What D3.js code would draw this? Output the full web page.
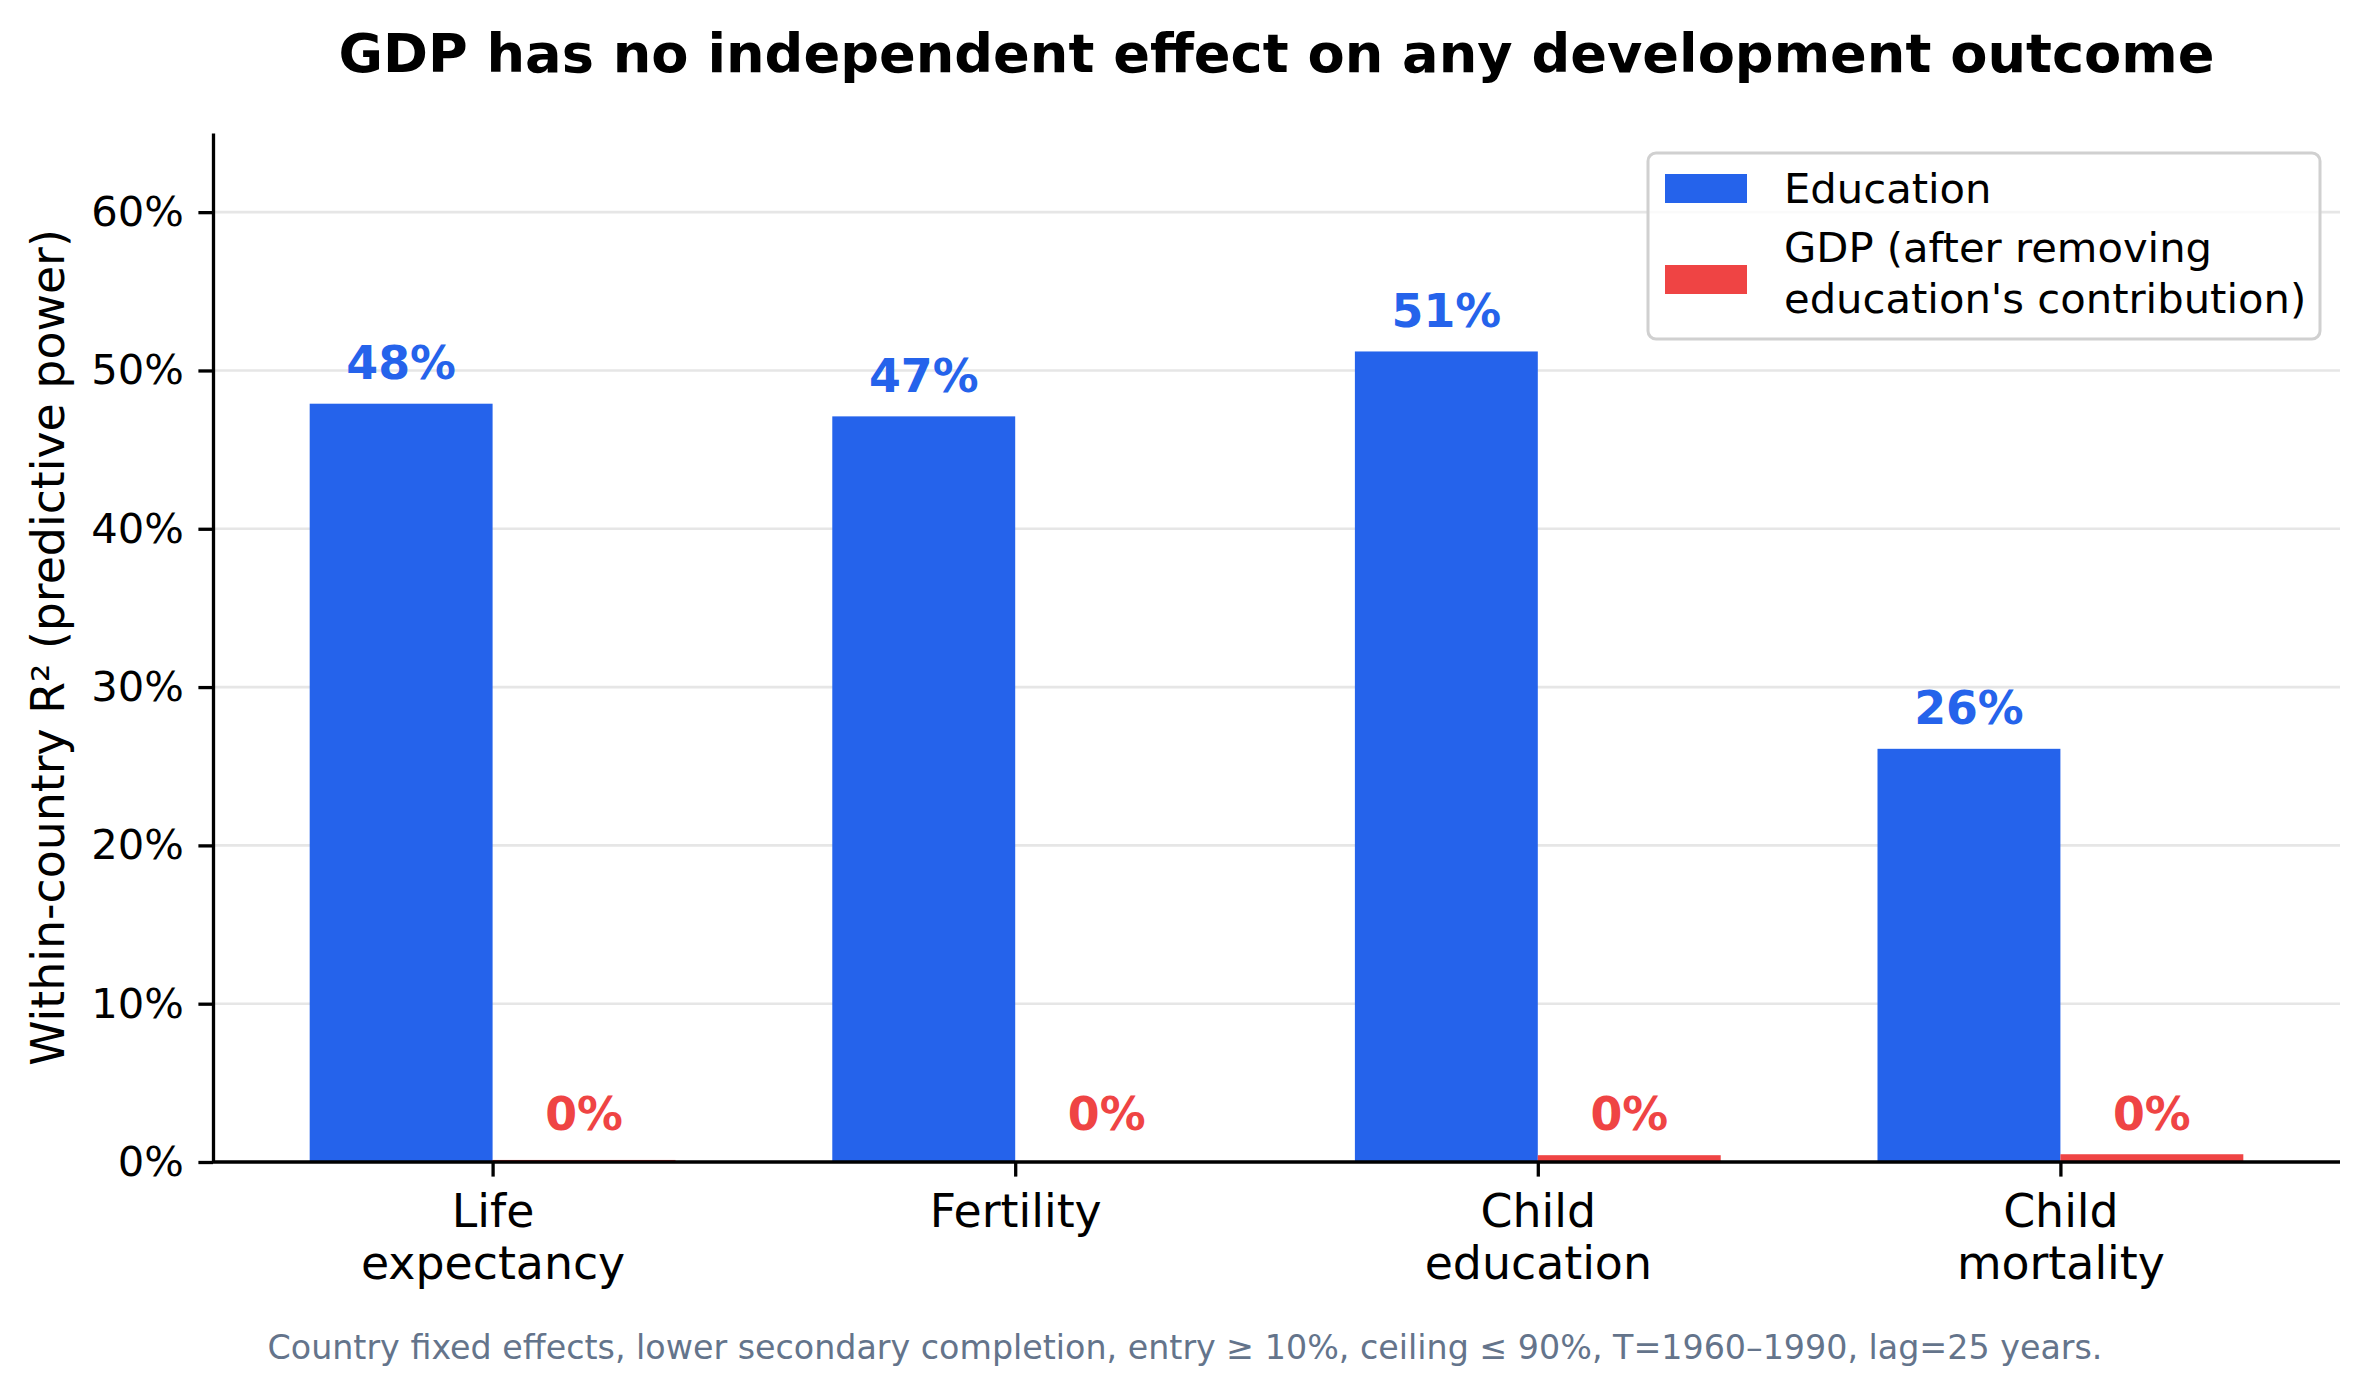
<!DOCTYPE html>
<meta charset="utf-8">
<style>
body { margin: 0; background: #fff; }
text { font-family: "DejaVu Sans", sans-serif; }
.axis path, .axis line { stroke: #000; stroke-width: 3.3px; }
.grid line { stroke: #e6e6e6; stroke-width: 2.6px; }
</style>
<body>
<script src="https://cdn.jsdelivr.net/npm/d3@7"></script>
<script>

// chart data
var categories = [["Life", "expectancy"], ["Fertility"], ["Child", "education"], ["Child", "mortality"]];
var education = [0.479, 0.471, 0.512, 0.261];
var gdp = [0.0013, 0.0006, 0.0043, 0.0049];
var yTicks = [0, 0.1, 0.2, 0.3, 0.4, 0.5, 0.6];
var seriesNames = ["Education", ["GDP (after removing", "education's contribution)"]];
var blue = "#2563eb", red = "#ef4444";

var width = 2370, height = 1397;
var plot = {left: 213, right: 2340, top: 133, bottom: 1162};
var barW = 0.35;

var svg = d3.select("body").append("svg")
    .attr("width", width)
    .attr("height", height);

var x = d3.scaleLinear()
  .domain([-0.535, 3.535])
  .range([plot.left, plot.right]);

var y = d3.scaleLinear()
  .domain([0, 0.65])
  .range([plot.bottom, plot.top]);

// grid
svg.append("g")
  .attr("class", "grid")
  .selectAll("line")
  .data(yTicks.slice(1))
  .enter().append("line")
  .attr("x1", plot.left).attr("x2", plot.right)
  .attr("y1", function(d) { return y(d); })
  .attr("y2", function(d) { return y(d); });

// bars
svg.append("g").selectAll("rect")
  .data(education)
  .enter().append("rect")
  .attr("x", function(d, i) { return x(i - barW); })
  .attr("width", x(barW) - x(0))
  .attr("y", function(d) { return y(d); })
  .attr("height", function(d) { return y(0) - y(d); })
  .style("fill", blue);

svg.append("g").selectAll("rect")
  .data(gdp)
  .enter().append("rect")
  .attr("x", function(d, i) { return x(i); })
  .attr("width", x(barW) - x(0))
  .attr("y", function(d) { return y(d); })
  .attr("height", function(d) { return y(0) - y(d); })
  .style("fill", red);

// value labels
svg.append("g").selectAll("text")
  .data(education)
  .enter().append("text")
  .attr("x", function(d, i) { return x(i - barW / 2); })
  .attr("y", function(d) { return y(d + 0.0155); })
  .attr("text-anchor", "middle")
  .style("font-size", "45.8px")
  .style("font-weight", "bold")
  .style("fill", blue)
  .text(function(d) { return d3.format(".0%")(d); });

svg.append("g").selectAll("text")
  .data(gdp)
  .enter().append("text")
  .attr("x", function(d, i) { return x(i + barW / 2); })
  .attr("y", y(0.0205))
  .attr("text-anchor", "middle")
  .style("font-size", "45.8px")
  .style("font-weight", "bold")
  .style("fill", red)
  .text(function(d) { return d3.format(".0%")(d); });

// axes
var yAxis = svg.append("g")
  .attr("class", "axis")
  .attr("transform", "translate(" + plot.left + ",0)")
  .call(d3.axisLeft(y).tickValues(yTicks).tickFormat(d3.format(".0%"))
    .tickSize(14.6).tickPadding(14.6).tickSizeOuter(0));
yAxis.selectAll("text").style("font-size", "41.7px").attr("fill", "#000");

var xAxis = svg.append("g")
  .attr("class", "axis")
  .attr("transform", "translate(0," + plot.bottom + ")")
  .call(d3.axisBottom(x).tickValues([0, 1, 2, 3]).tickFormat("")
    .tickSize(14.6).tickSizeOuter(0));
xAxis.select("path").attr("d", "M" + plot.left + ",0H" + plot.right);

xAxis.selectAll(".tick").each(function(d) {
  var t = d3.select(this).append("text")
    .attr("fill", "#000")
    .attr("text-anchor", "middle")
    .style("font-size", "45.8px");
  categories[d].forEach(function(line, k) {
    t.append("tspan").attr("x", 0).attr("y", 65 + k * 52).text(line);
  });
});

// title
svg.append("text")
  .attr("x", (plot.left + plot.right) / 2)
  .attr("y", 72)
  .attr("text-anchor", "middle")
  .style("font-size", "54.2px")
  .style("font-weight", "bold")
  .text("GDP has no independent effect on any development outcome");

// y label
svg.append("text")
  .attr("transform", "translate(64," + ((plot.top + plot.bottom) / 2) + ") rotate(-90)")
  .attr("text-anchor", "middle")
  .style("font-size", "45.8px")
  .text("Within-country R² (predictive power)");

// footnote
svg.append("text")
  .attr("x", width / 2)
  .attr("y", 1359)
  .attr("text-anchor", "middle")
  .style("font-size", "33.3px")
  .style("fill", "#64748b")
  .text("Country fixed effects, lower secondary completion, entry ≥ 10%, ceiling ≤ 90%, T=1960–1990, lag=25 years.");

// legend
var legend = svg.append("g");
legend.append("rect")
  .attr("x", 1648).attr("y", 153)
  .attr("width", 672).attr("height", 186)
  .attr("rx", 8)
  .style("fill", "#fff").style("fill-opacity", 0.8)
  .style("stroke", "#d0d0d0").style("stroke-width", 3);

var legendColors = [blue, red];
var swatchY = [174, 265];
var textY = [[203], [262, 313]];
seriesNames.forEach(function(name, i) {
  legend.append("rect")
    .attr("x", 1665).attr("y", swatchY[i])
    .attr("width", 82).attr("height", 29)
    .style("fill", legendColors[i]);
  var lines = Array.isArray(name) ? name : [name];
  lines.forEach(function(line, k) {
    legend.append("text")
      .attr("x", 1784).attr("y", textY[i][k])
      .style("font-size", "41.7px")
      .text(line);
  });
});

</script>
</body>
